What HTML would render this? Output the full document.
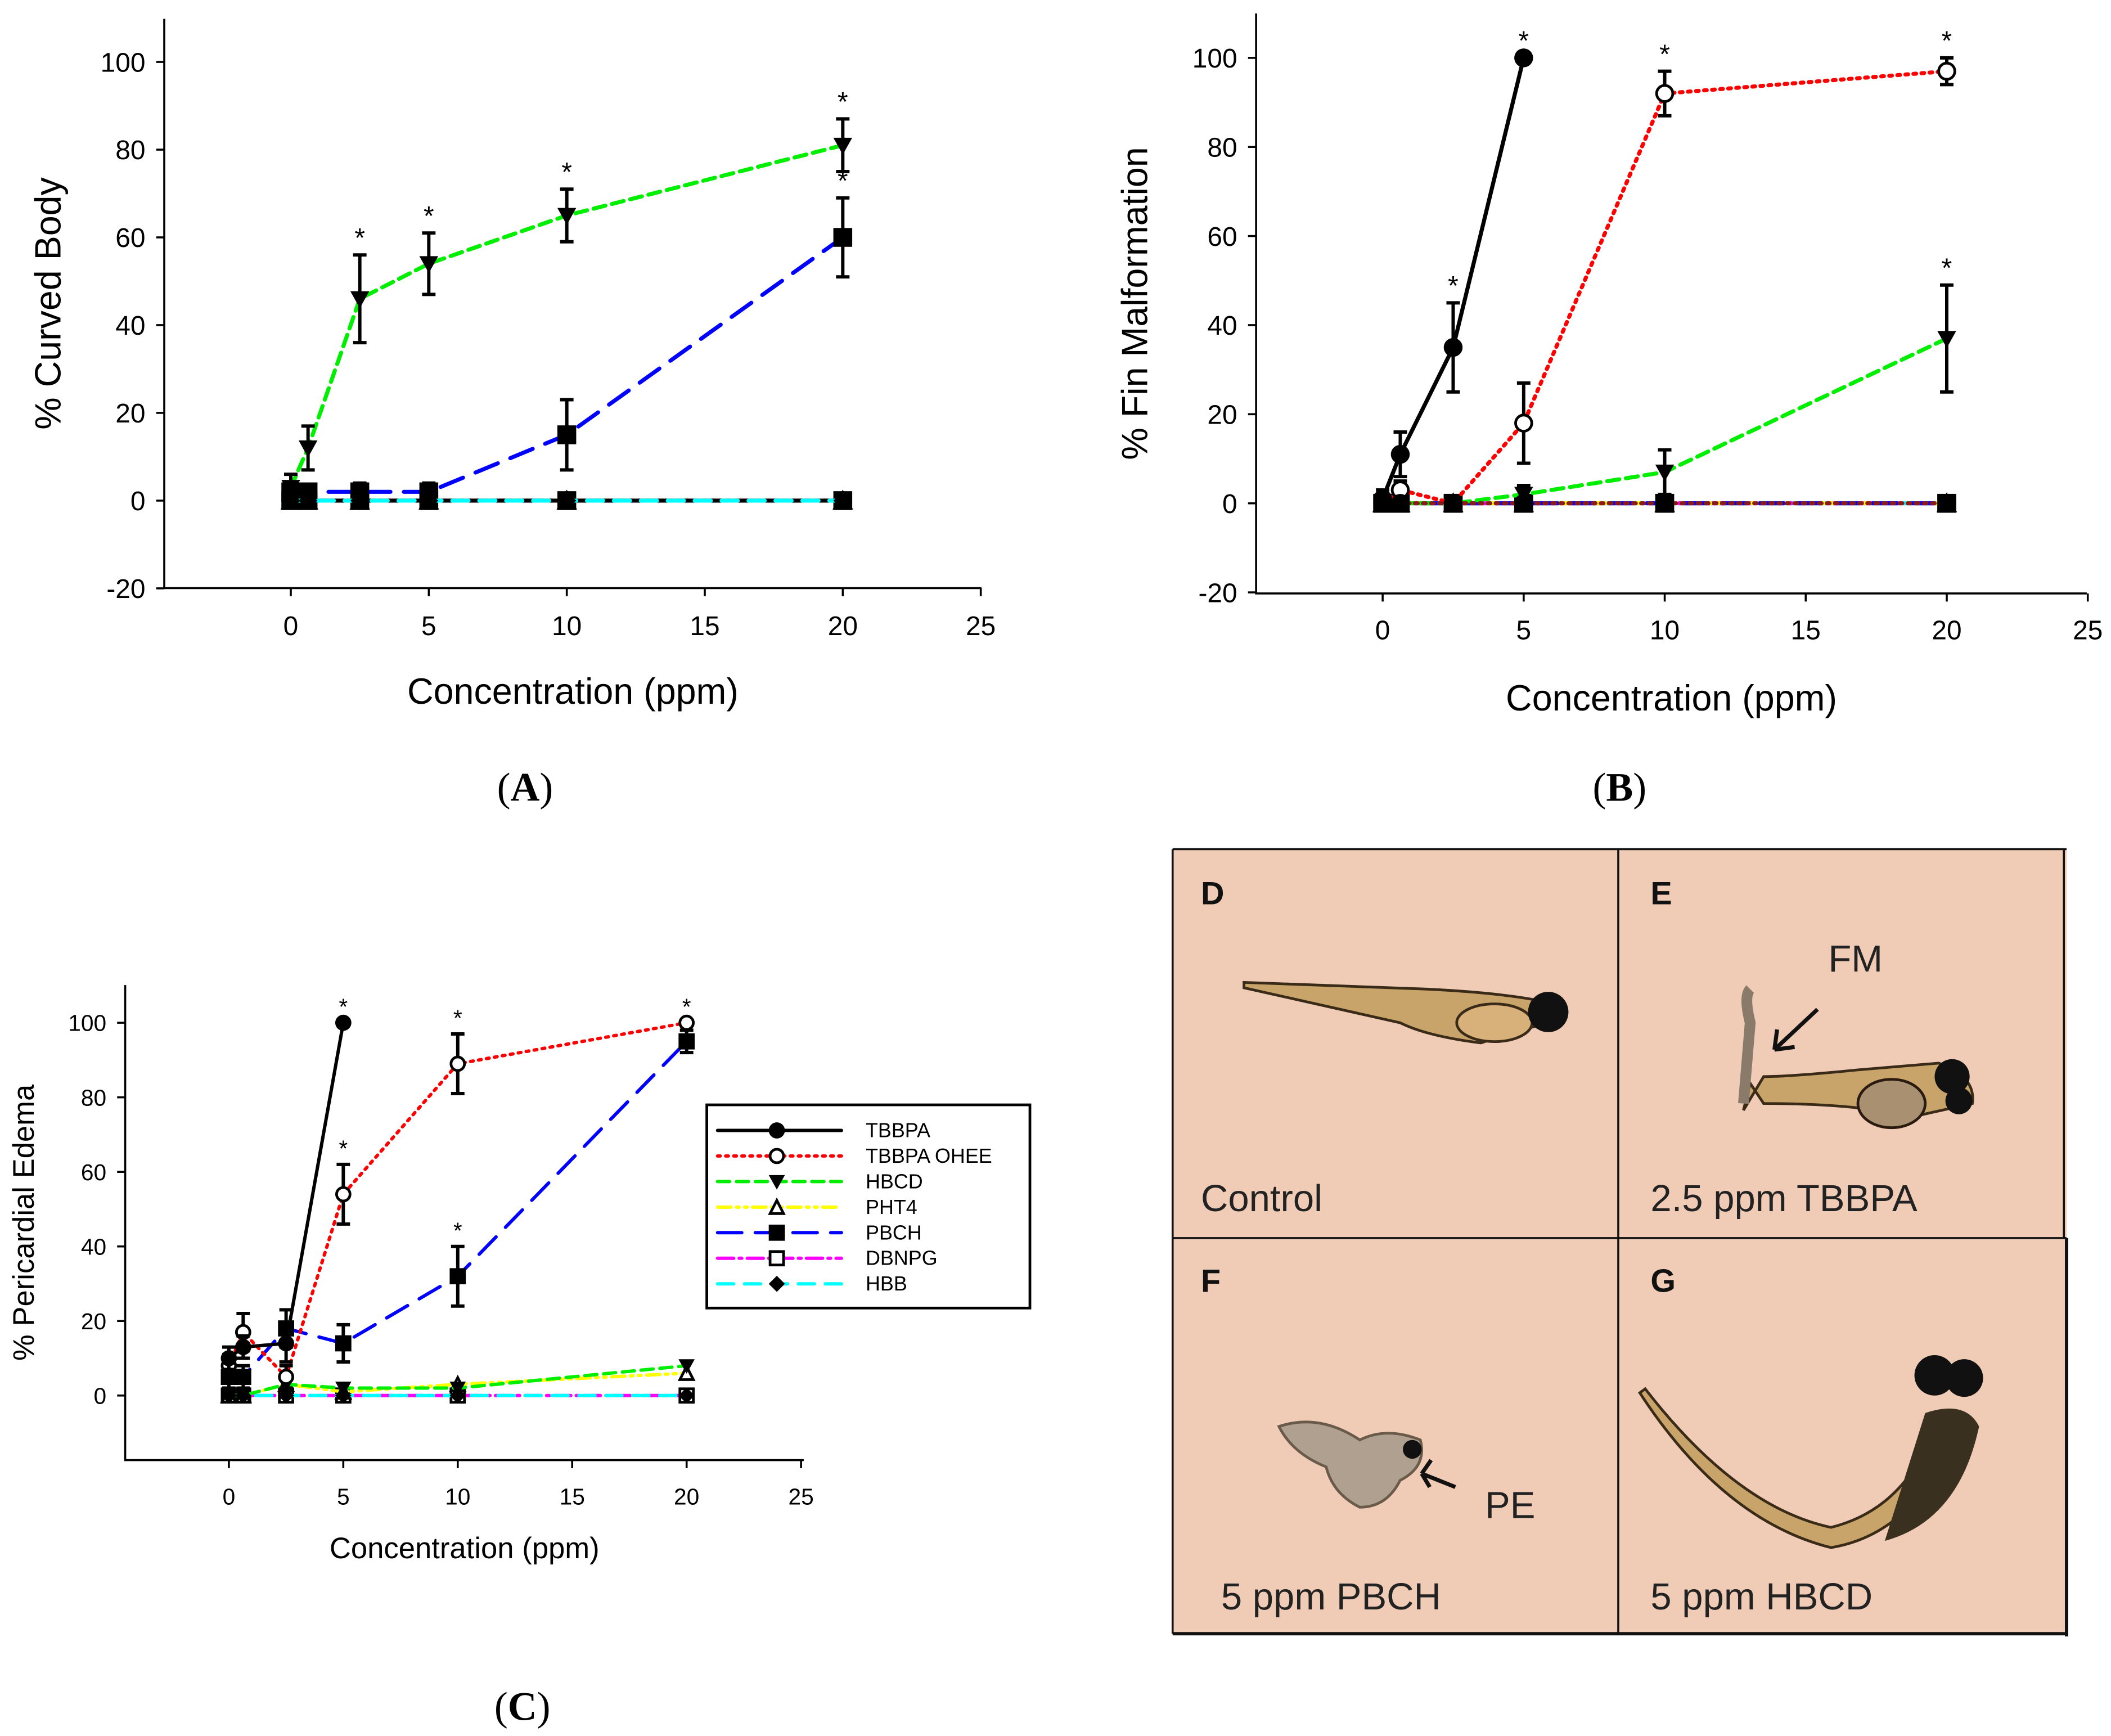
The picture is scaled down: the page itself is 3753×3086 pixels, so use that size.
<!DOCTYPE html>
<html><head><meta charset="utf-8"><style>
html,body{margin:0;padding:0;background:#fff}
svg{display:block}
text{font-family:"Liberation Sans",sans-serif}
</style></head><body>
<svg id="fig" width="3753" height="3086" viewBox="0 0 1568 1290" preserveAspectRatio="none" xmlns="http://www.w3.org/2000/svg">
<g id="pA"></g>
<g id="pB"></g>
<g id="pC"></g>
<text x="390" y="595" font-size="30" text-anchor="middle" style="font-family:'Liberation Serif',serif">(<tspan font-weight="bold">A</tspan>)</text>
<text x="1203" y="595" font-size="30" text-anchor="middle" style="font-family:'Liberation Serif',serif">(<tspan font-weight="bold">B</tspan>)</text>
<text x="388" y="1278" font-size="30" text-anchor="middle" style="font-family:'Liberation Serif',serif">(<tspan font-weight="bold">C</tspan>)</text>

<g>
<rect x="871" y="631" width="664" height="583" fill="#f0cbb5"/>
<g>
<path d="M924,730 L1060,735 Q1120,738 1150,745 L1150,760 Q1120,768 1100,775 Q1060,770 1040,760 L924,734 Z" fill="#c8a46a" stroke="#3a2a18" stroke-width="2"/>
<ellipse cx="1110" cy="760" rx="28" ry="14" fill="#d8b07a" stroke="#3a2a18" stroke-width="2"/>
<circle cx="1150" cy="752" r="15" fill="#111"/>
<text x="892" y="672" font-size="24" font-weight="bold" fill="#111">D</text>
<text x="892" y="900" font-size="28" fill="#222">Control</text>
</g>
<g>
<path d="M1295,825 L1310,800 Q1330,800 1380,795 L1440,790 Q1468,800 1465,820 L1420,830 Q1380,820 1310,820 L1300,805 Z" fill="#c8a46a" stroke="#3a2a18" stroke-width="2"/>
<path d="M1295,820 L1300,760 Q1295,740 1300,735" stroke="#8a7a6a" stroke-width="8" fill="none"/>
<ellipse cx="1405" cy="820" rx="25" ry="18" fill="#a89070" stroke="#2a1a10" stroke-width="2"/>
<circle cx="1450" cy="800" r="13" fill="#111"/><circle cx="1455" cy="818" r="10" fill="#111"/>
<line x1="1350" y1="750" x2="1318" y2="780" stroke="#111" stroke-width="3"/>
<path d="M1318,780 L1320,765 M1318,780 L1333,778" stroke="#111" stroke-width="3"/>
<text x="1226" y="672" font-size="24" font-weight="bold" fill="#111">E</text>
<text x="1358" y="722" font-size="28" fill="#222">FM</text>
<text x="1226" y="900" font-size="28" fill="#222">2.5 ppm TBBPA</text>
</g>
<g>
<path d="M950,1060 Q980,1050 1010,1070 Q1030,1060 1055,1070 Q1060,1090 1040,1100 Q1030,1120 1010,1120 Q990,1110 985,1090 Q960,1080 950,1060 Z" fill="#b0a090" stroke="#6a5a4a" stroke-width="2"/>
<circle cx="1049" cy="1077" r="7" fill="#111"/>
<line x1="1081" y1="1105" x2="1056" y2="1095" stroke="#111" stroke-width="3"/>
<path d="M1056,1095 L1063,1085 M1056,1095 L1062,1105" stroke="#111" stroke-width="3"/>
<text x="892" y="960" font-size="24" font-weight="bold" fill="#111">F</text>
<text x="1103" y="1128" font-size="28" fill="#222">PE</text>
<text x="907" y="1196" font-size="28" fill="#222">5 ppm PBCH</text>
</g>
<g>
<path d="M1218,1035 Q1280,1130 1360,1150 Q1420,1140 1450,1070 L1440,1050 Q1420,1120 1360,1135 Q1290,1120 1222,1032 Z" fill="#c8a46a" stroke="#3a2a18" stroke-width="2"/>
<path d="M1430,1050 Q1460,1040 1470,1060 Q1455,1130 1400,1145 Z" fill="#3a3020"/>
<circle cx="1437" cy="1022" r="15" fill="#111"/><circle cx="1459" cy="1024" r="14" fill="#111"/>
<text x="1226" y="960" font-size="24" font-weight="bold" fill="#111">G</text>
<text x="1226" y="1196" font-size="28" fill="#222">5 ppm HBCD</text>
</g>
<line x1="871" y1="631" x2="1535" y2="631" stroke="#111" stroke-width="1.5"/>
<line x1="871" y1="631" x2="871" y2="1214" stroke="#111" stroke-width="1.5"/>
<line x1="1533" y1="631" x2="1533" y2="920" stroke="#111" stroke-width="1.5"/>
<line x1="1535" y1="920" x2="1535" y2="1216" stroke="#111" stroke-width="2.5"/>
<line x1="871" y1="1214" x2="1535" y2="1214" stroke="#111" stroke-width="2.5"/>
<line x1="1202" y1="631" x2="1202" y2="1214" stroke="#111" stroke-width="1.5"/>
<line x1="871" y1="920" x2="1535" y2="920" stroke="#111" stroke-width="1.5"/>
</g>
</svg>
<script>
const NS="http://www.w3.org/2000/svg";
const conc=[0,0.625,2.5,5,10,20];
const xTicks=[0,5,10,15,20,25];
// Panel A values
const aHBCD=[3,12,46,54,65,81];
const aHBCDerr=[3,5,10,7,6,6];
const aPBCH=[2,2,2,2,15,60];
const aPBCHerr=[0,0,2,2,8,9];
const aZero=[0,0,0,0,0,0];
const aStars=[[2.5,46,10],[5,54,7],[10,65,6],[20,81,6],[20,60,9]];
// Panel B values
const bTBBPA=[1,11,35,100];
const bTBBPAerr=[2,5,10,0];
const bOHEE=[0,3,0,18,92,97];
const bOHEEerr=[1,2,0,9,5,3];
const bHBCD=[0,0,0,2,7,37];
const bHBCDerr=[0,0,0,2,5,12];
const bStars=[[2.5,35,10],[5,100,0],[10,92,5],[20,97,3],[20,37,12]];
// Panel C values
const cTBBPA=[10,13,14,100];
const cTBBPAerr=[3,3,5,0];
const cOHEE=[8,17,5,54,89,100];
const cOHEEerr=[3,5,3,8,8,0];
const cPBCH=[5,5,18,14,32,95];
const cPBCHerr=[3,3,5,5,8,3];
const cHBCD=[0,0,3,2,2,8];
const cPHT4=[0,0,3,1,3,6];
const cStars=[[5,100,0],[5,54,8],[10,89,8],[10,32,8],[20,100,0]];
const legendNames=["TBBPA","TBBPA OHEE","HBCD","PHT4","PBCH","DBNPG","HBB"];

const styles={
 TBBPA:{c:"#000",d:"",m:"dot"},
 OHEE:{c:"#ff0000",d:"2,4",m:"open"},
 HBCD:{c:"#00ee00",d:"9,5",m:"tri"},
 PHT4:{c:"#ffff00",d:"10,4,2,4,2,4",m:"utri"},
 PBCH:{c:"#0000ff",d:"18,10",m:"sq"},
 DBNPG:{c:"#ff00ff",d:"12,4,2,4",m:"osq"},
 HBB:{c:"#00ffff",d:"12,8",m:"dia"},
 BROWN:{c:"#8b1a1a",d:"2,4",m:"dot"}
};
function el(g,tag,attrs){const e=document.createElementNS(NS,tag);for(const k in attrs)e.setAttribute(k,attrs[k]);g.appendChild(e);return e;}
function marker(g,type,x,y,r){
 let e;
 if(type==="dot")e=el(g,"circle",{cx:x,cy:y,r:r,fill:"#000"});
 else if(type==="open")e=el(g,"circle",{cx:x,cy:y,r:r-1,fill:"#fff",stroke:"#000","stroke-width":2});
 else if(type==="tri")e=el(g,"polygon",{points:`${x-r},${y-r*0.8} ${x+r},${y-r*0.8} ${x},${y+r}`,fill:"#000"});
 else if(type==="utri")e=el(g,"polygon",{points:`${x-r+1},${y+r*0.8} ${x+r-1},${y+r*0.8} ${x},${y-r+1}`,fill:"#fff",stroke:"#000","stroke-width":2});
 else if(type==="sq")e=el(g,"rect",{x:x-r,y:y-r,width:2*r,height:2*r,fill:"#000"});
 else if(type==="osq")e=el(g,"rect",{x:x-r+1,y:y-r+1,width:2*r-2,height:2*r-2,fill:"#fff",stroke:"#000","stroke-width":2});
 else e=el(g,"polygon",{points:`${x-r},${y} ${x},${y-r} ${x+r},${y} ${x},${y+r}`,fill:"#000"});
 
 
}
function panel(g,cfg){
 const X=v=>cfg.x0+v*cfg.xs, Y=v=>cfg.y0-v*cfg.ys;
 const axis=el(g,"path",{d:`M${cfg.left},${cfg.top} L${cfg.left},${cfg.bottom} L${cfg.right},${cfg.bottom}`,fill:"none",stroke:"#000","stroke-width":1.5});
 
 
 xTicks.forEach(t=>{el(g,"line",{x1:X(t),x2:X(t),y1:cfg.bottom,y2:cfg.bottom+6,stroke:"#000","stroke-width":1.5});
  const tx=el(g,"text",{x:X(t),y:cfg.bottom+cfg.fs+cfg.xtOff,"font-size":cfg.fs,"text-anchor":"middle"});tx.textContent=t;
  
  });
 cfg.yTicks.forEach(t=>{el(g,"line",{x1:cfg.left-6,x2:cfg.left,y1:Y(t),y2:Y(t),stroke:"#000","stroke-width":1.5});
  const tx=el(g,"text",{x:cfg.left-14,y:Y(t)+cfg.fs*0.36,"font-size":cfg.fs,"text-anchor":"end"});tx.textContent=t;
  
  });
 const xt=el(g,"text",{x:(cfg.left+cfg.right)/2,y:cfg.xtY,"font-size":cfg.tfs,"text-anchor":"middle"});xt.textContent="Concentration (ppm)";
 
 
 const yt=el(g,"text",{x:0,y:0,"font-size":cfg.tfs,"text-anchor":"middle",transform:`translate(${cfg.ytX},${(cfg.top+cfg.bottom)/2}) rotate(-90)`});yt.textContent=cfg.ytitle;
 
 
 cfg.series.forEach(s=>{
  const st=styles[s.k];const vals=s.v;
  const pts=vals.map((v,i)=>`${X(conc[i])},${Y(v)}`).join(" ");
  const l=el(g,"polyline",{points:pts,fill:"none",stroke:st.c,"stroke-width":cfg.lw,"stroke-dasharray":st.d,"stroke-linecap":"round"});
  
  
  if(s.e)vals.forEach((v,i)=>{const e=s.e[i];if(!e)return;const x=X(conc[i]);
   el(g,"path",{d:`M${x},${Y(v-e)} L${x},${Y(v+e)} M${x-5},${Y(v-e)} L${x+5},${Y(v-e)} M${x-5},${Y(v+e)} L${x+5},${Y(v+e)}`,stroke:"#000","stroke-width":2.5,fill:"none"});});
  vals.forEach((v,i)=>marker(g,st.m,X(conc[i]),Y(v),cfg.mr));
 });
 cfg.stars.forEach(s=>{const t=el(g,"text",{x:X(s[0]),y:Y(s[1]+s[2])-6,"font-size":cfg.fs,"text-anchor":"middle"});t.textContent="*";
  
  });
}
panel(document.getElementById("pA"),{x0:216,xs:20.5,y0:372,ys:3.26,left:122,right:729,top:14,bottom:437,
 yTicks:[-20,0,20,40,60,80,100],fs:20,tfs:27,lw:3,mr:7,xtOff:15,xtY:523,ytX:45,ytitle:"% Curved Body",
 series:[{k:"DBNPG",v:aZero},{k:"PHT4",v:aZero},{k:"OHEE",v:aZero},
 {k:"PBCH",v:aPBCH,e:aPBCHerr},{k:"HBCD",v:aHBCD,e:aHBCDerr},{k:"TBBPA",v:aZero},{k:"HBB",v:aZero}],stars:aStars});
panel(document.getElementById("pB"),{x0:1027,xs:20.95,y0:374,ys:3.31,left:933,right:1550,top:10,bottom:441,
 yTicks:[-20,0,20,40,60,80,100],fs:20,tfs:27,lw:3,mr:7,xtOff:14,xtY:528,ytX:852,ytitle:"% Fin Malformation",
 series:[{k:"HBB",v:aZero},{k:"DBNPG",v:aZero},{k:"PHT4",v:aZero},{k:"PBCH",v:aZero},
 {k:"HBCD",v:bHBCD,e:bHBCDerr},{k:"OHEE",v:bOHEE,e:bOHEEerr},{k:"TBBPA",v:bTBBPA,e:bTBBPAerr},{k:"BROWN",v:aZero}],stars:bStars});
const gC=document.getElementById("pC");
panel(gC,{x0:170,xs:17,y0:1037,ys:2.77,left:93,right:597,top:732,bottom:1085,
 yTicks:[0,20,40,60,80,100],fs:17,tfs:22,lw:2.5,mr:6,xtOff:16,xtY:1158,ytX:25,ytitle:"% Pericardial Edema",
 series:[{k:"DBNPG",v:aZero},{k:"PHT4",v:cPHT4},{k:"HBCD",v:cHBCD},
 {k:"PBCH",v:cPBCH,e:cPBCHerr},{k:"OHEE",v:cOHEE,e:cOHEEerr},{k:"TBBPA",v:cTBBPA,e:cTBBPAerr},{k:"HBB",v:aZero}],stars:cStars});
// legend
const lg=el(gC,"g",{});


el(lg,"rect",{x:525,y:821,width:240,height:151,fill:"#fff",stroke:"#000","stroke-width":2});
const lkeys=["TBBPA","OHEE","HBCD","PHT4","PBCH","DBNPG","HBB"];
legendNames.forEach((n,i)=>{const y=840+i*19;const st=styles[lkeys[i]];
 el(lg,"line",{x1:533,x2:625,y1:y,y2:y,stroke:st.c,"stroke-width":2.5,"stroke-dasharray":st.d,"stroke-linecap":"round"});
 marker(lg,st.m,577,y,6);
 const t=el(lg,"text",{x:643,y:y+5,"font-size":15});t.textContent=n;
 
 
});
</script>
</body></html>
